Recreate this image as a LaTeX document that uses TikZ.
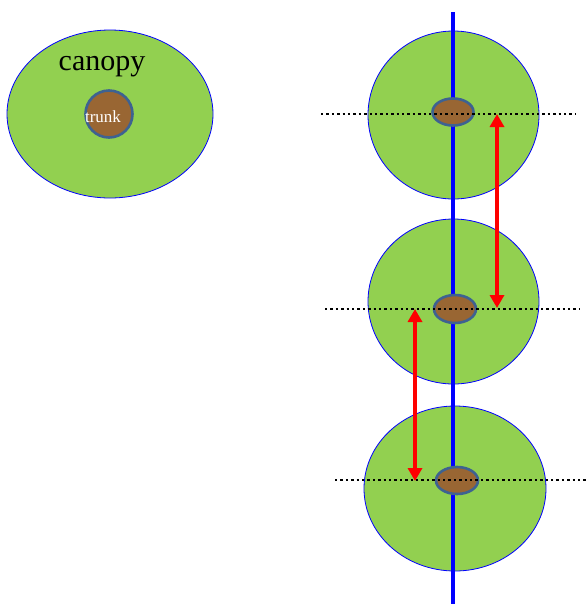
\documentclass[tikz,border=0pt]{standalone}
\usepackage{fontspec}
\setmainfont{Liberation Serif}
\usetikzlibrary{shapes.geometric,arrows.meta}

\definecolor{leaf}{RGB}{146,208,80}
\definecolor{bark}{RGB}{153,102,51}
\definecolor{barkline}{RGB}{62,98,145}

\tikzset{
  crown/.style={ellipse, draw=blue, fill=leaf, line width=0.8pt, inner sep=0pt},
  stem/.style={ellipse, draw=barkline, fill=bark, line width=2.6pt, inner sep=0pt},
  row/.style={black, line width=2.4pt, dash pattern=on 2.4pt off 3pt},
  gap/.style={red, line width=4pt, {Triangle[length=13pt,width=14pt]}-{Triangle[length=13pt,width=14pt]}}
}

\begin{document}
\begin{tikzpicture}[x=1pt,y=-1pt]
\useasboundingbox (0,0) rectangle (588,606);

% single tree
\node [crown, minimum width=206pt, minimum height=168pt] (c0) at (110,114) {};
\node [stem, minimum size=47pt] (t0) at (109,114) {};
\node [font=\fontsize{30}{30}\selectfont] (lc) at (102,67) {canopy};
\node [white, font=\fontsize{17}{17}\selectfont] (lt) at (103,117) {trunk};

% row of trees
\node [crown, minimum width=171pt, minimum height=168pt] (c1) at (453.5,115) {};
\node [crown, minimum width=171pt, minimum height=165pt] (c2) at (453.5,301.5) {};
\node [crown, minimum width=182pt, minimum height=165pt] (c3) at (455,488.5) {};

\coordinate (top) at (453,12);
\coordinate (bot) at (453,604);
\draw [blue, line width=4pt] (top) -- (bot);

\node [stem, minimum width=41pt, minimum height=27pt] (t1) at (453,112) {};
\node [stem, minimum width=42pt, minimum height=28pt] (t2) at (455,309) {};
\node [stem, minimum width=42pt, minimum height=27pt] (t3) at (457,480.5) {};

\draw [row] (321,114) -- (575,114);
\draw [row] (325,309) -- (580,309);
\draw [row] (335,480) -- (588,480);

\coordinate (a1) at (497,114);
\coordinate (a2) at (497,308);
\coordinate (b1) at (415,309);
\coordinate (b2) at (415,481);
\draw [gap] (a1) -- (a2);
\draw [gap] (b1) -- (b2);
\end{tikzpicture}
\end{document}
